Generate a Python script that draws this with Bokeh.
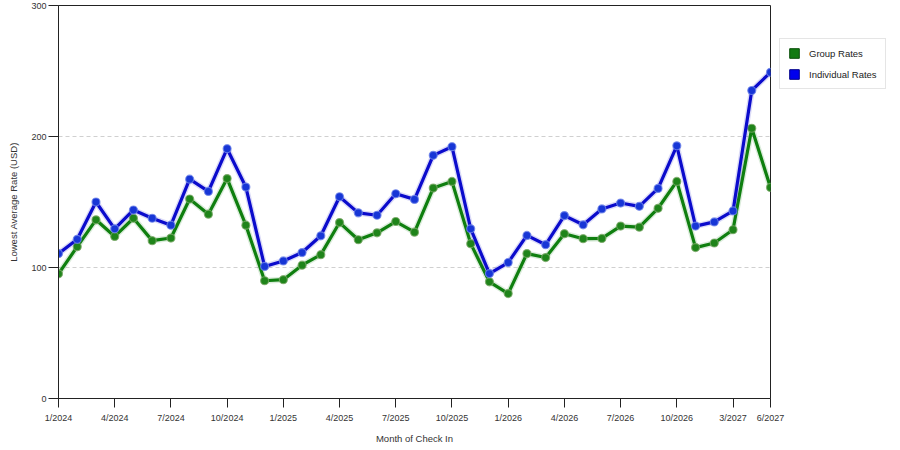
from bokeh.plotting import figure
from bokeh.models import Range1d, FixedTicker, Legend, LegendItem
from bokeh.layouts import row
from bokeh.embed import file_html
from bokeh.resources import INLINE

# values, one point per month column
group_rates = [95.2, 115.9, 136.4, 123.7, 137.6, 120.5, 122.5, 152.3, 140.7, 167.9,
               132.3, 89.9, 90.7, 101.8, 109.8, 134.3, 121.2, 126.5, 135.1, 127.0,
               160.6, 165.7, 118.2, 89.1, 80.1, 110.6, 107.6, 125.8, 122.0, 122.2,
               131.6, 130.8, 145.2, 165.7, 115.2, 118.7, 128.8, 206.3, 161.1]
individual_rates = [110.6, 121.5, 150.0, 129.5, 143.9, 137.6, 132.3, 167.4, 158.1, 190.7,
                    161.4, 100.8, 105.0, 111.4, 124.2, 154.0, 141.7, 139.9, 156.3, 152.0,
                    185.6, 192.2, 129.5, 95.4, 103.8, 124.5, 117.4, 139.6, 132.6, 144.7,
                    149.2, 146.7, 160.4, 192.9, 131.6, 134.8, 143.2, 235.1, 249.0]
x = list(range(len(group_rates)))

tick_pos = [0, 3, 6, 9, 12, 15, 18, 21, 24, 27, 30, 33, 36, 38]
tick_labels = ["1/2024", "4/2024", "7/2024", "10/2024", "1/2025", "4/2025", "7/2025",
               "10/2025", "1/2026", "4/2026", "7/2026", "10/2026", "3/2027", "6/2027"]
y_ticks = [0, 100, 200, 300]

GREEN = "#0f7f0f"
BLUE = "#0b0bcc"
FONT = "Liberation Sans"
NAN = float("nan")

p = figure(width=790, height=446, output_backend="svg", toolbar_location=None,
           x_range=Range1d(0, 38), y_range=Range1d(0, 300),
           min_border_left=58, min_border_right=20, min_border_top=5,
           min_border_bottom=46, x_axis_label="Month of Check In",
           y_axis_label="Lowest Average Rate (USD)")

p.outline_line_color = "#222222"
p.outline_line_width = 1

# axes
for ax in (p.xaxis[0], p.yaxis[0]):
    ax.axis_line_color = "#222222"
    ax.major_tick_line_color = "#222222"
    ax.minor_tick_line_color = None
    ax.major_tick_in = 0
    ax.major_label_text_font = FONT
    ax.major_label_text_font_size = "9px"
    ax.major_label_text_color = "#333333"
    ax.axis_label_text_font = FONT
    ax.axis_label_text_font_size = "9.5px"
    ax.axis_label_text_font_style = "normal"
    ax.axis_label_text_color = "#333333"

p.xaxis.ticker = FixedTicker(ticks=tick_pos)
p.xaxis.major_label_overrides = dict(zip(tick_pos, tick_labels))
p.xaxis.major_tick_out = 9
p.xaxis.major_label_standoff = 5
p.xaxis.axis_label_standoff = 7

p.yaxis.ticker = FixedTicker(ticks=y_ticks)
p.yaxis.major_tick_out = 10
p.yaxis.major_label_standoff = 2
p.yaxis.axis_label_standoff = 9

p.xgrid.grid_line_color = None
p.ygrid.grid_line_color = "#d0d0d0"
p.ygrid.grid_line_dash = "4 3"
p.ygrid.grid_line_width = 1

# series: a soft halo under each line, then the line and its points
p.line(x, group_rates, line_color=GREEN, line_width=6, line_alpha=0.15)
p.line(x, group_rates, line_color=GREEN, line_width=3.2)
p.scatter(x, group_rates, size=8, fill_color="#1f841a", line_color="#79a866",
          line_width=1.2, line_alpha=0.8)

p.line(x, individual_rates, line_color=BLUE, line_width=6, line_alpha=0.15)
p.line(x, individual_rates, line_color=BLUE, line_width=3.2)
p.scatter(x, individual_rates, size=8, fill_color="#1736d6", line_color="#7086ea",
          line_width=1.2, line_alpha=0.8)

# legend lives in a small see-through figure pulled over the right edge of the chart
lg = figure(width=128, height=446, output_backend="svg", toolbar_location=None,
            x_axis_type=None, y_axis_type=None, x_range=Range1d(0, 1), y_range=Range1d(0, 1),
            min_border=0, margin=(0, 0, 0, -18))
lg.outline_line_color = None
lg.background_fill_color = None
lg.border_fill_color = None
lg.xgrid.grid_line_color = None
lg.ygrid.grid_line_color = None

g_sw = lg.quad(left=[NAN], right=[NAN], top=[NAN], bottom=[NAN],
               fill_color="#117a11", line_color="#0a4f0a")
b_sw = lg.quad(left=[NAN], right=[NAN], top=[NAN], bottom=[NAN],
               fill_color="#0000ee", line_color="#00008a")

legend = Legend(items=[LegendItem(label="Group Rates", renderers=[g_sw]),
                       LegendItem(label="Individual Rates", renderers=[b_sw])],
                location=(7, 309))
legend.border_line_color = "#cccccc"
legend.border_line_width = 1
legend.background_fill_color = "white"
legend.glyph_width = 12
legend.glyph_height = 12
legend.label_height = 12
legend.label_standoff = 9
legend.spacing = 9
legend.padding = 8
legend.margin = 0
legend.label_text_font = FONT
legend.label_text_font_size = "9.5px"
legend.label_text_color = "#222222"
lg.add_layout(legend, "center")

open("out.html", "w").write(file_html(row(p, lg), INLINE))
